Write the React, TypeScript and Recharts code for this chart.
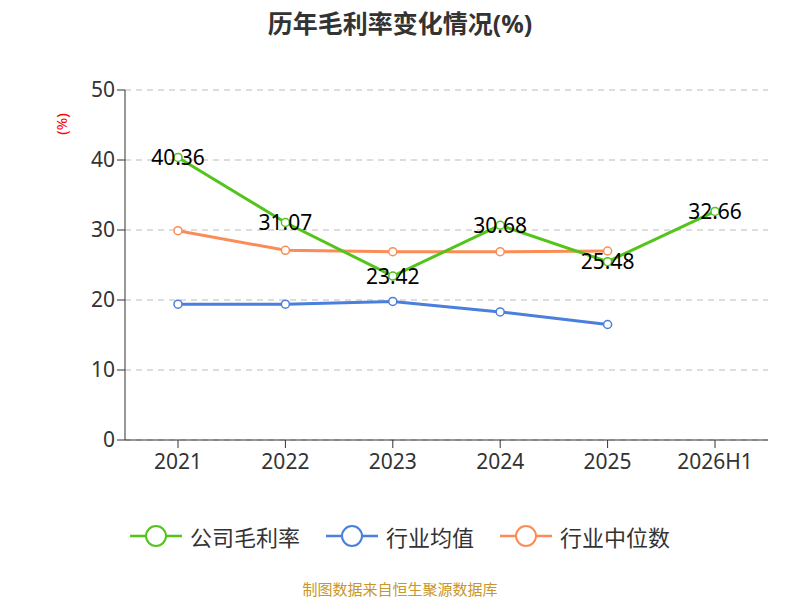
import { LineChart, Line, XAxis, YAxis, CartesianGrid, LabelList } from 'recharts';

const years = ['2021', '2022', '2023', '2024', '2025', '2026H1'];
const companyMargin = [40.36, 31.07, 23.42, 30.68, 25.48, 32.66];
const industryAvg = [19.4, 19.4, 19.8, 18.3, 16.5, null];
const industryMedian = [29.9, 27.1, 26.9, 26.9, 27.0, null];
const yTicks = [0, 10, 20, 30, 40, 50];

const data = years.map((y, i) => ({
  year: y,
  company: companyMargin[i],
  avg: industryAvg[i],
  median: industryMedian[i],
}));

const GREEN = '#52c41a';
const BLUE = '#4a7fdc';
const ORANGE = '#fb8c55';

const legendItems = [
  { name: '公司毛利率', color: GREEN },
  { name: '行业均值', color: BLUE },
  { name: '行业中位数', color: ORANGE },
];

export default function App() {
  return (
    <div
      style={{
        position: 'absolute',
        left: 0,
        top: 0,
        width: 800,
        height: 600,
        background: '#fff',
        fontFamily: '"Noto Sans", "Noto Sans CJK SC", sans-serif',
      }}
    >
      <div style={{ position: 'absolute', top: 4, width: 800, textAlign: 'center', fontSize: 25, fontWeight: 'bold', color: '#333' }}>
        历年毛利率变化情况(%)
      </div>
      <div style={{ position: 'absolute', left: 50, top: 114, color: 'red', fontSize: 15, transform: 'rotate(-90deg)', transformOrigin: 'center' }}>
        (%)
      </div>
      <LineChart width={800} height={600} data={data} margin={{ top: 90, right: 32, left: 0, bottom: 120 }}>
        <CartesianGrid vertical={false} stroke="#bbb" strokeDasharray="6 5" />
        <XAxis
          dataKey="year"
          height={40}
          stroke="#333"
          padding={{ left: 53, right: 53 }}
          tick={{ fill: '#333', fontSize: 21 }}
          tickSize={8}
          tickMargin={6}
        />
        <YAxis
          width={125}
          domain={[0, 50]}
          ticks={yTicks}
          stroke="#333"
          tick={{ fill: '#333', fontSize: 21 }}
          tickSize={8}
        />
        <Line dataKey="avg" stroke={BLUE} strokeWidth={3} dot={{ r: 4, fill: '#fff', strokeWidth: 1.5 }} isAnimationActive={false} />
        <Line dataKey="median" stroke={ORANGE} strokeWidth={3} dot={{ r: 4, fill: '#fff', strokeWidth: 1.5 }} isAnimationActive={false} />
        <Line dataKey="company" stroke={GREEN} strokeWidth={3} dot={{ r: 4, fill: '#fff', strokeWidth: 1.5 }} isAnimationActive={false}>
          <LabelList dataKey="company" position="center" fill="#000" fontSize={21} />
        </Line>
      </LineChart>
      <div style={{ position: 'absolute', top: 520, width: 800, display: 'flex', justifyContent: 'center', gap: 26, fontSize: 22, color: '#333' }}>
        {legendItems.map((it) => (
          <div key={it.name} style={{ display: 'flex', alignItems: 'center', gap: 8 }}>
            <svg width={52} height={30}>
              <line x1={0} y1={15} x2={52} y2={15} stroke={it.color} strokeWidth={2.5} />
              <circle cx={26} cy={15} r={10} fill="#fff" stroke={it.color} strokeWidth={2} />
            </svg>
            <span>{it.name}</span>
          </div>
        ))}
      </div>
      <div style={{ position: 'absolute', top: 578, width: 800, textAlign: 'center', fontSize: 15, color: '#c8962a' }}>
        制图数据来自恒生聚源数据库
      </div>
    </div>
  );
}
